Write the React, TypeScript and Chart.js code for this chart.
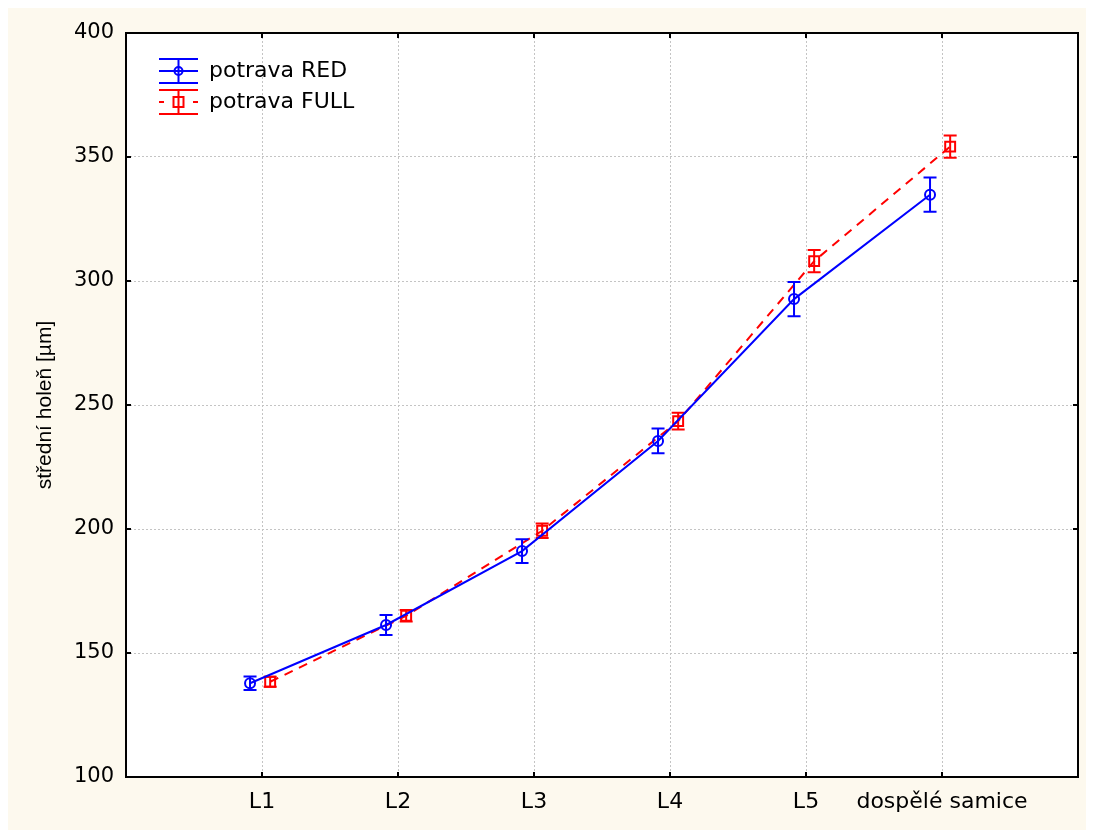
import React, { useEffect, useRef } from 'react';
import { Chart, registerables } from 'chart.js';

Chart.register(...registerables);

const categories = ['L1', 'L2', 'L3', 'L4', 'L5', 'dospělé samice'];
const seriesNames = ['potrava RED', 'potrava FULL'];
const redMeans = [137.8, 161.3, 191.1, 235.5, 292.7, 334.8];
const redErrors = [2.7, 4.0, 4.8, 5.0, 6.9, 6.9];
const fullMeans = [138.4, 165.0, 199.3, 243.5, 308.0, 354.2];
const fullErrors = [2.0, 2.3, 2.9, 3.4, 4.5, 4.5];
const redOffset = -0.088;
const fullOffset = 0.06;
const yMin = 100;
const yMax = 400;
const yStep = 50;

const BLUE = '#0000ff';
const RED = '#ff0000';
const CREAM = '#fdf9ee';
const GRID = '#c4c4c4';

const plotBgPlugin = {
  id: 'plotBg',
  beforeDraw(chart: any) {
    const { ctx, chartArea: a } = chart;
    ctx.save();
    ctx.fillStyle = '#ffffff';
    ctx.fillRect(a.left, a.top, a.right - a.left, a.bottom - a.top);
    ctx.restore();
  },
};

const errorBarsPlugin = {
  id: 'errorBars',
  afterDatasetDraw(chart: any, args: any) {
    const ds = chart.data.datasets[args.index];
    const errs: number[] = ds.errors;
    if (!errs) return;
    const { ctx, scales } = chart;
    const xs = scales.x;
    const ys = scales.y;
    ctx.save();
    ctx.strokeStyle = ds.borderColor;
    ctx.lineWidth = 2;
    ctx.setLineDash([]);
    ds.data.forEach((p: any, i: number) => {
      const x = xs.getPixelForValue(p.x);
      const yt = ys.getPixelForValue(p.y + errs[i]);
      const yb = ys.getPixelForValue(p.y - errs[i]);
      const cap = 6.5;
      ctx.beginPath();
      ctx.moveTo(x, yt);
      ctx.lineTo(x, yb);
      ctx.moveTo(x - cap, yt);
      ctx.lineTo(x + cap, yt);
      ctx.moveTo(x - cap, yb);
      ctx.lineTo(x + cap, yb);
      ctx.stroke();
    });
    ctx.restore();
  },
};

const framePlugin = {
  id: 'frame',
  afterDraw(chart: any) {
    const { ctx, chartArea: a, scales } = chart;
    ctx.save();
    ctx.strokeStyle = '#000';
    ctx.lineWidth = 2;
    ctx.setLineDash([]);
    ctx.strokeRect(a.left, a.top, a.right - a.left, a.bottom - a.top);
    const tl = 5;
    ctx.beginPath();
    for (let v = yMin; v <= yMax; v += yStep) {
      const y = scales.y.getPixelForValue(v);
      ctx.moveTo(a.left, y);
      ctx.lineTo(a.left + tl, y);
      ctx.moveTo(a.right, y);
      ctx.lineTo(a.right - tl, y);
    }
    for (let i = 1; i <= categories.length; i++) {
      const x = scales.x.getPixelForValue(i);
      ctx.moveTo(x, a.top);
      ctx.lineTo(x, a.top + tl);
      ctx.moveTo(x, a.bottom);
      ctx.lineTo(x, a.bottom - tl);
    }
    ctx.stroke();

    // legend
    const lx0 = a.left + 33;
    const lx1 = a.left + 72;
    const cx = (lx0 + lx1) / 2;
    const rows = [
      { y: a.top + 38, color: BLUE, dash: false, name: seriesNames[0] },
      { y: a.top + 69, color: RED, dash: true, name: seriesNames[1] },
    ];
    rows.forEach((r) => {
      ctx.strokeStyle = r.color;
      ctx.lineWidth = 2;
      ctx.beginPath();
      ctx.moveTo(lx0, r.y - 12);
      ctx.lineTo(lx1, r.y - 12);
      ctx.moveTo(lx0, r.y + 12);
      ctx.lineTo(lx1, r.y + 12);
      ctx.moveTo(cx, r.y - 12);
      ctx.lineTo(cx, r.y + 12);
      if (!r.dash) {
        ctx.moveTo(lx0, r.y);
        ctx.lineTo(lx1, r.y);
      } else {
        ctx.moveTo(lx0, r.y);
        ctx.lineTo(lx0 + 5, r.y);
        ctx.moveTo(lx1 - 5, r.y);
        ctx.lineTo(lx1, r.y);
      }
      ctx.stroke();
      ctx.beginPath();
      if (!r.dash) {
        ctx.arc(cx, r.y, 4, 0, Math.PI * 2);
      } else {
        ctx.rect(cx - 5, r.y - 5, 10, 10);
      }
      ctx.stroke();
      ctx.fillStyle = '#000';
      ctx.font = '22px "DejaVu Sans"';
      ctx.textBaseline = 'middle';
      ctx.textAlign = 'left';
      ctx.fillText(r.name, lx1 + 11, r.y);
    });
    ctx.restore();
  },
};

export default function App() {
  const ref = useRef<HTMLCanvasElement | null>(null);

  useEffect(() => {
    if (!ref.current) return;
    const chart = new Chart(ref.current, {
      type: 'line',
      data: {
        datasets: [
          {
            label: seriesNames[0],
            data: redMeans.map((m, i) => ({ x: i + 1 + redOffset, y: m })),
            errors: redErrors,
            borderColor: BLUE,
            borderWidth: 2,
            pointStyle: 'circle',
            pointRadius: 5,
            pointBorderWidth: 2,
            pointBorderColor: BLUE,
            pointBackgroundColor: 'rgba(0,0,0,0)',
            fill: false,
            tension: 0,
          } as any,
          {
            label: seriesNames[1],
            data: fullMeans.map((m, i) => ({ x: i + 1 + fullOffset, y: m })),
            errors: fullErrors,
            borderColor: RED,
            borderWidth: 2,
            borderDash: [9, 7],
            pointStyle: 'rect',
            pointRadius: 7,
            pointBorderWidth: 2,
            pointBorderColor: RED,
            pointBackgroundColor: 'rgba(0,0,0,0)',
            fill: false,
            tension: 0,
          } as any,
        ],
      },
      options: {
        animation: false,
        responsive: true,
        maintainAspectRatio: false,
        layout: { padding: { top: 25, right: 16, left: 0, bottom: 0 } },
        plugins: {
          legend: { display: false },
          tooltip: { enabled: false },
        },
        scales: {
          x: {
            type: 'linear',
            min: 0,
            max: 7,
            border: { display: false, dash: [2, 2] },
            grid: {
              color: GRID,
              lineWidth: 1,
              drawTicks: false,
            },
            ticks: {
              stepSize: 1,
              autoSkip: false,
              maxRotation: 0,
              padding: 12,
              color: '#000',
              font: { family: '"DejaVu Sans"', size: 22 },
              callback: (v: any) => {
                const n = Number(v);
                return Number.isInteger(n) && n >= 1 && n <= categories.length ? categories[n - 1] : '';
              },
            },
            afterFit: (s: any) => {
              s.height = 53;
            },
          },
          y: {
            type: 'linear',
            min: yMin,
            max: yMax,
            border: { display: false, dash: [2, 2] },
            grid: {
              color: GRID,
              lineWidth: 1,
              drawTicks: false,
            },
            ticks: {
              stepSize: yStep,
              padding: 12,
              color: '#000',
              font: { family: '"DejaVu Sans"', size: 21 },
            },
            title: {
              display: true,
              text: 'střední holeň [µm]',
              color: '#000',
              font: { family: '"Liberation Sans"', size: 21 },
              padding: { top: 25, bottom: 0 },
            },
            afterFit: (s: any) => {
              s.width = 118;
            },
          },
        },
      },
      plugins: [plotBgPlugin, errorBarsPlugin, framePlugin],
    } as any);
    return () => chart.destroy();
  }, []);

  return (
    <div style={{ width: 1086, height: 822, background: CREAM, position: 'relative' }}>
      <canvas ref={ref} />
    </div>
  );
}
